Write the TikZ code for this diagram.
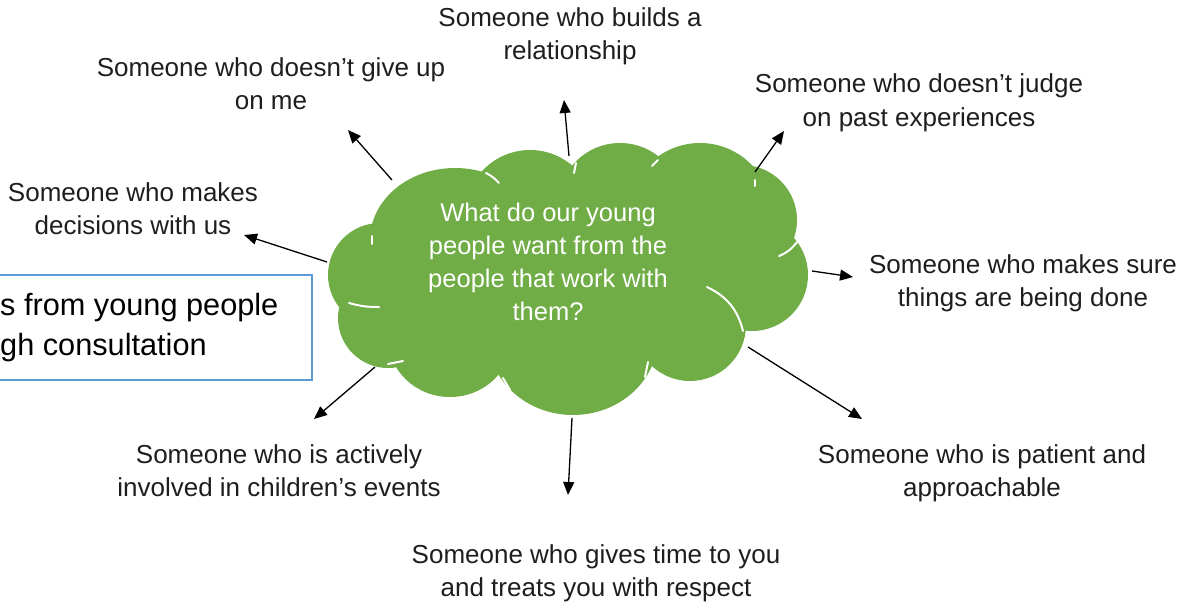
\documentclass[tikz,border=0pt]{standalone}
\usepackage{fontspec}
\setmainfont{Liberation Sans}
\usetikzlibrary{arrows.meta}
\definecolor{cloudgreen}{HTML}{70AD47}
\definecolor{boxblue}{HTML}{5B9BD5}
\definecolor{inkgray}{HTML}{1E1E1E}
\begin{document}
\begin{tikzpicture}[x=1pt,y=-1pt,
  wish/.style={font=\fontsize{26}{33}\selectfont, text=inkgray, align=center, anchor=base, inner sep=0pt},
  ray/.style={draw=black, line width=1.3pt, -{Triangle[length=13pt,width=11pt]}},
  seam/.style={white, line width=2pt, line cap=round}]
\useasboundingbox (0,0) rectangle (1190,607);
\clip (0,0) rectangle (1190,607);

% side note box, running off the left edge
\draw[boxblue, line width=1.6pt] (-20,275) rectangle (312,380);
\node (note) [font=\fontsize{30.7}{40}\selectfont, text=black, align=left, anchor=base west, inner sep=0pt]
  at (0,355) {s from young people\\gh consultation};

% the cloud: overlapping puffs
\begin{scope}[fill=cloudgreen]
  \fill (455,240) ellipse [x radius=85, y radius=72];   % upper left
  \fill (530,215) circle [radius=65];                   % top, left
  \fill (620,205) circle [radius=62];                   % top, middle
  \fill (700,215) circle [radius=72];                   % top, right
  \fill (742,220) circle [radius=55];                   % right, upper
  \fill (752,275) circle [radius=56];                   % right, lower
  \fill (690,325) circle [radius=56];                   % bottom right
  \fill (573,337) ellipse [x radius=85, y radius=78];   % bottom middle
  \fill (450,338) ellipse [x radius=62, y radius=59];   % bottom left
  \fill (388,318) circle [radius=50];                   % left, lower
  \fill (380,275) circle [radius=52];                   % left
  \fill (570,280) ellipse [x radius=180, y radius=95];  % body
\end{scope}

% white seams between the puffs
\draw[seam] (486,173) to[bend left=10] (499,183);
\draw[seam] (576,163) -- (574,173);
\draw[seam] (652,166) -- (658,160);
\draw[seam] (755,180) -- (755,186);
\draw[seam] (779,256) to[bend right=15] (797,242);
\draw[seam] (707,287) to[bend left=25] (743,331);
\draw[seam] (648,362) -- (645,377);
\draw[seam] (503,378) -- (510,390);
\draw[seam] (388,364) -- (403,361);
\draw[seam] (349,303) to[bend right=8] (379,307);
\draw[seam] (372,236) -- (372,244);

\node (question) [font=\fontsize{25.5}{32.7}\selectfont, text=white, align=center, anchor=base, inner sep=0pt]
  at (548,320) {What do our young\\people want from the\\people that work with\\them?};

% labels (placed by the baseline of their last line)
\node (builds)    [wish] at (570,60)  {Someone who builds a\\relationship};
\node (giveup)    [wish] at (271,110) {Someone who doesn’t give up\\on me};
\node (judge)     [wish] at (919,126) {Someone who doesn’t judge\\on past experiences};
\node (decisions) [wish] at (133,234) {Someone who makes\\decisions with us};
\node (sure)      [wish] at (1023,306) {Someone who makes sure\\things are being done};
\node (patient)   [wish] at (982,496) {Someone who is patient and\\approachable};
\node (active)    [wish] at (279,496) {Someone who is actively\\involved in children’s events};
\node (time)      [wish] at (596,596) {Someone who gives time to you\\and treats you with respect};

% arrow ends
\coordinate (tB) at (569,156);  \coordinate (hB) at (564,100);
\coordinate (tG) at (392,180);  \coordinate (hG) at (348,130);
\coordinate (tJ) at (755,172);  \coordinate (hJ) at (784,131);
\coordinate (tD) at (327,262);  \coordinate (hD) at (244,235);
\coordinate (tS) at (812,271);  \coordinate (hS) at (853,277);
\coordinate (tP) at (748,347);  \coordinate (hP) at (862,419);
\coordinate (tA) at (375,367);  \coordinate (hA) at (314,419);
\coordinate (tT) at (572,418);  \coordinate (hT) at (568,495);

\draw[ray] (tB) -- (hB);
\draw[ray] (tG) -- (hG);
\draw[ray] (tJ) -- (hJ);
\draw[ray] (tD) -- (hD);
\draw[ray] (tS) -- (hS);
\draw[ray] (tP) -- (hP);
\draw[ray] (tA) -- (hA);
\draw[ray] (tT) -- (hT);
\end{tikzpicture}
\end{document}
